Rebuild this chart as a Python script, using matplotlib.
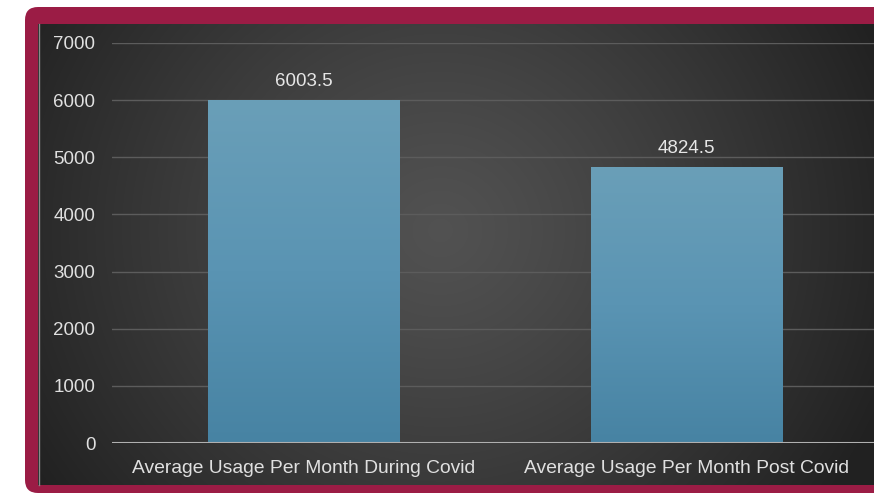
import numpy as np
import matplotlib
matplotlib.use("Agg")
from matplotlib import pyplot as plt
from matplotlib.patches import FancyBboxPatch, Rectangle
from matplotlib.colors import LinearSegmentedColormap

categories = ["Average Usage Per Month During Covid", "Average Usage Per Month Post Covid"]
values = [6003.5, 4824.5]
yticks = [0, 1000, 2000, 3000, 4000, 5000, 6000, 7000]

W, H = 874, 495
plt.rcParams['font.family'] = ['Liberation Sans', 'DejaVu Sans']

fig = plt.figure(figsize=(W / 100, H / 100), dpi=100)
fig.patch.set_facecolor("white")

# background axes in pixel coords
bg = fig.add_axes([0, 0, 1, 1])
bg.set_xlim(0, W)
bg.set_ylim(H, 0)
bg.axis("off")

frame = FancyBboxPatch((25, 7), 880, 486, boxstyle="round,pad=0,rounding_size=13",
                       facecolor="#9b1c45", edgecolor="none")
bg.add_patch(frame)

# dark panel with a radial glow
yy, xx = np.mgrid[0:H, 0:W]
r = np.hypot(xx - 440, (yy - 230) * 1.05)
shade = 0.32 - 0.19 * np.clip(r / 480, 0, 1) ** 1.2
img = np.dstack([shade, shade, shade])
panel = Rectangle((38, 24), 900, 461, facecolor="none", edgecolor="none")
bg.add_patch(panel)
im = bg.imshow(img, extent=(0, W, H, 0), aspect="auto", interpolation="bilinear", zorder=1)
im.set_clip_path(panel)
bg.plot([38.5, 38.5], [24, 485], color="#8a8a8a", lw=1, zorder=2)

# main chart
ax = fig.add_axes([112 / W, (H - 443) / H, 1 - 112 / W, 400 / H])
ax.patch.set_alpha(0)
x = np.arange(len(categories))
bars = ax.bar(x, values, width=0.5, color="#5b93b1", zorder=3)

# vertical gradient on each bar
grad = np.linspace(0, 1, 256).reshape(-1, 1)
cmap = LinearSegmentedColormap.from_list("barg", ["#4783a3", "#5a94b3", "#6a9fb8"])
for b in bars:
    gi = ax.imshow(grad, extent=(b.get_x(), b.get_x() + b.get_width(), 0, b.get_height()),
                   origin="lower", cmap=cmap, aspect="auto", zorder=4)
    gi.set_clip_path(b)
    ax.text(b.get_x() + b.get_width() / 2, b.get_height() + 180, f"{b.get_height():g}",
            ha="center", va="bottom", color="#e6e6e6", fontsize=13.5, zorder=5)

ax.set_xlim(-0.5, 1.49)
ax.set_ylim(0, 7000)
ax.set_yticks(yticks)
ax.set_xticks(x)
ax.set_xticklabels(categories, fontsize=13.9)
ax.grid(axis="y", color="#5c5c5c", lw=1, zorder=0)
ax.axhline(0, color="#b0b0b0", lw=1.5, zorder=5)
for s in ax.spines.values():
    s.set_visible(False)
ax.tick_params(axis="both", length=0, colors="#e0e0e0")
ax.tick_params(axis="y", pad=12, labelsize=13.5)
ax.tick_params(axis="x", pad=12)

fig.savefig("out.png", dpi=100)
